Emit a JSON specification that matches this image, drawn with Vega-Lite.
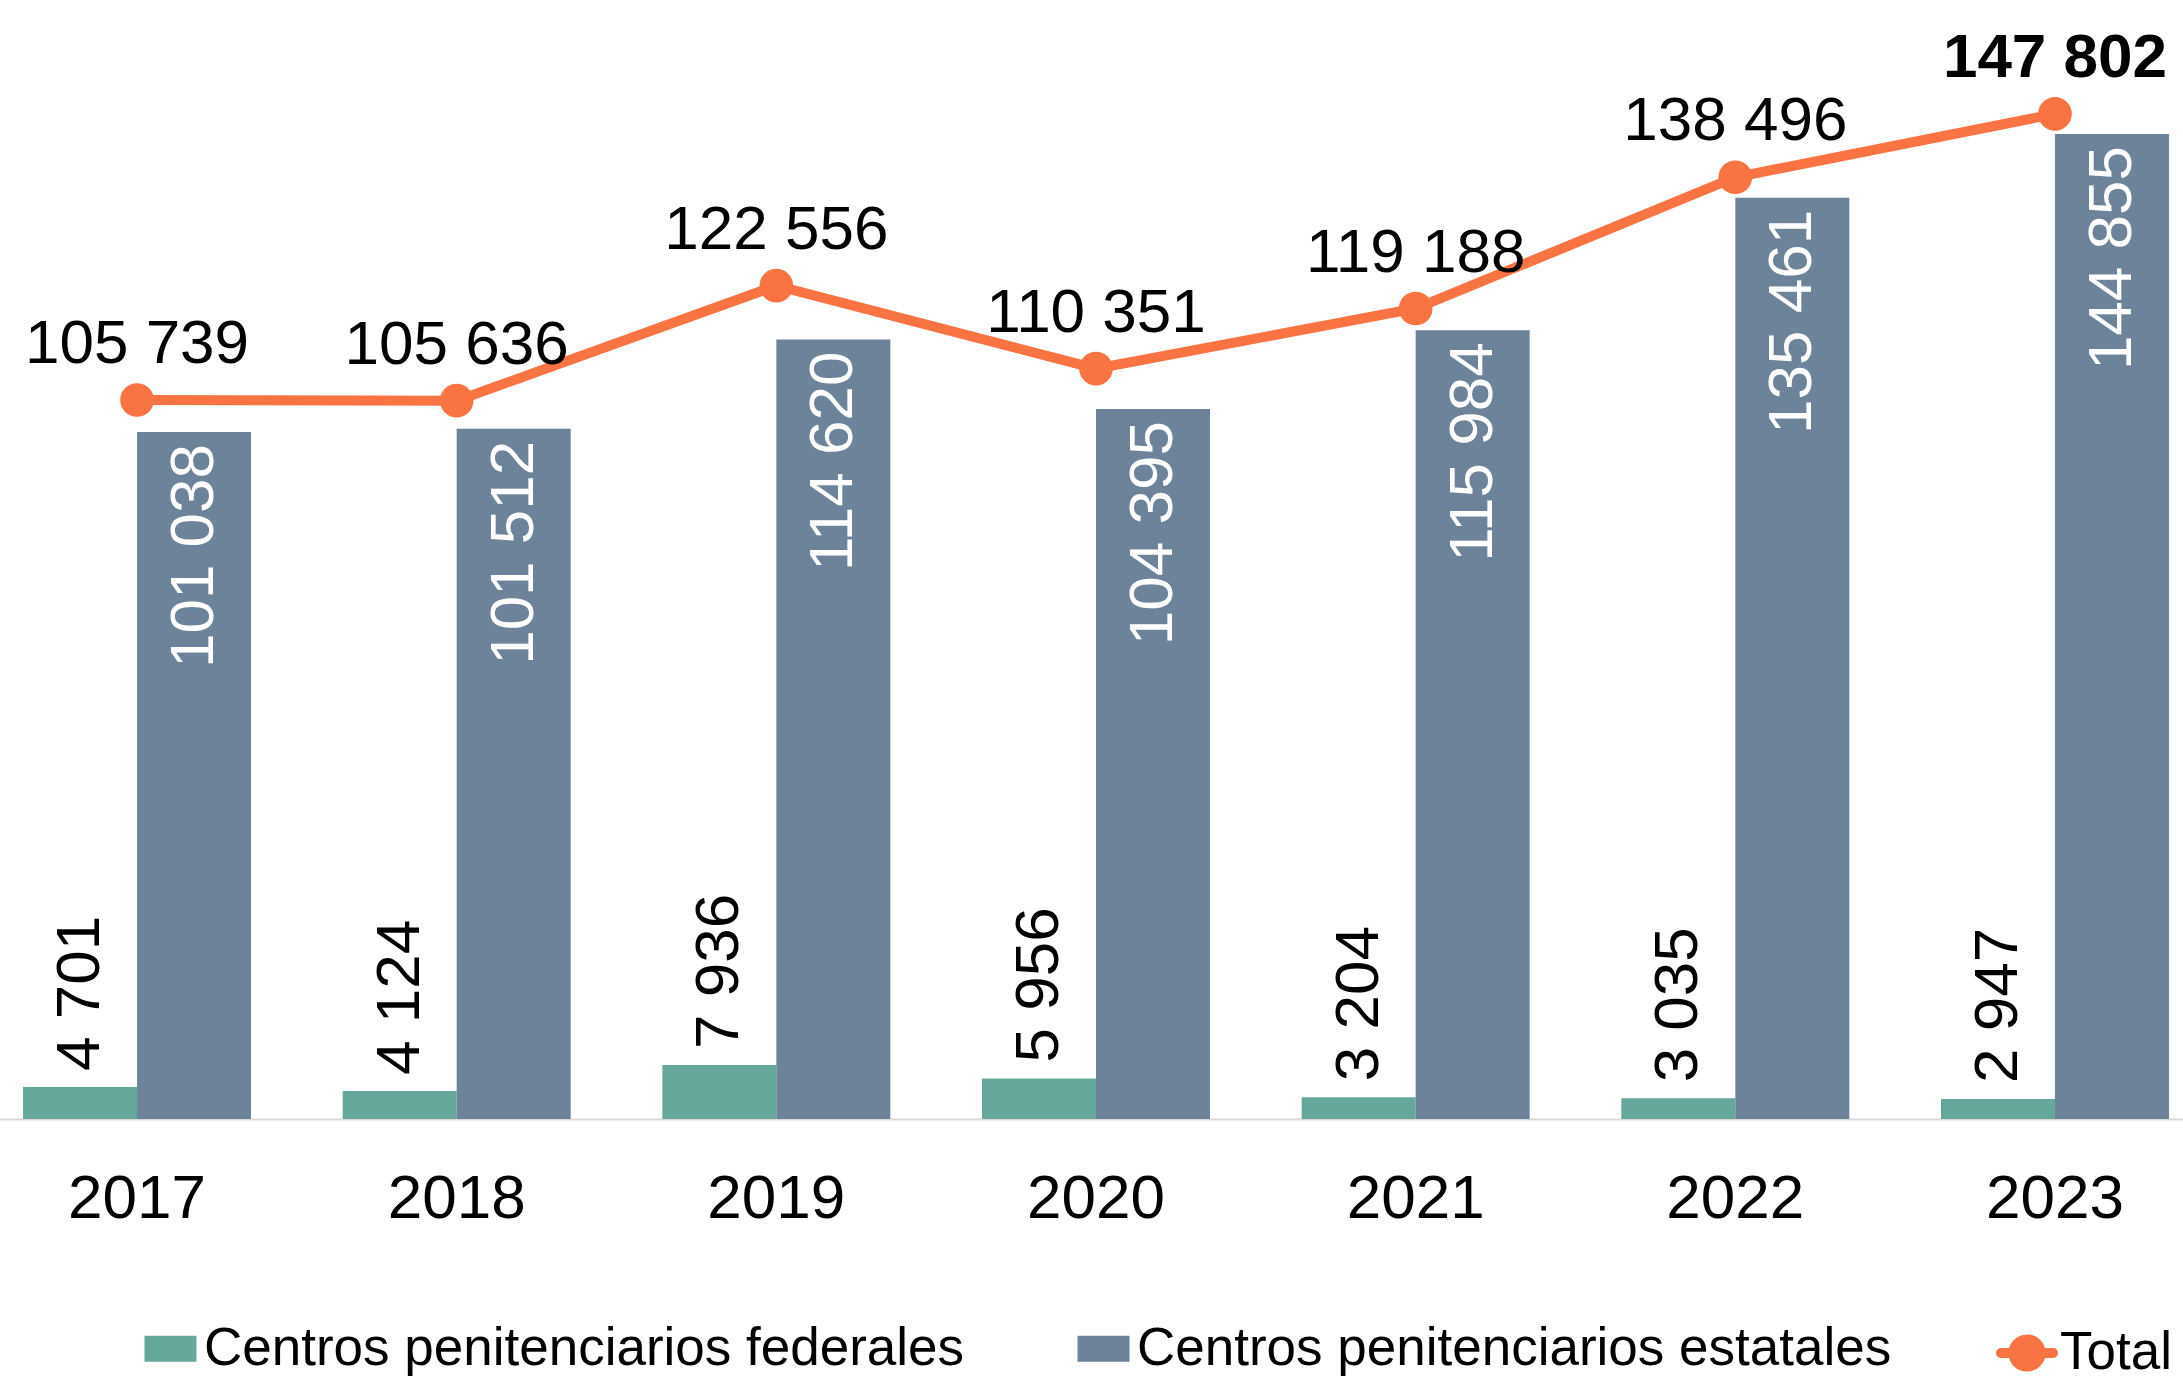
{
  "$schema": "https://vega.github.io/schema/vega-lite/v6.json",
  "width": 2183,
  "height": 1119,
  "autosize": {"type": "none"},
  "padding": {"left": 0, "top": 0, "right": 0, "bottom": 262},
  "background": "white",
  "config": {
    "view": {"stroke": null},
    "font": "Liberation Sans",
    "locale": {"number": {"decimal": ".", "thousands": " ", "grouping": [3], "currency": ["$", ""]}},
    "axis": {"grid": false}
  },
  "datasets": {
    "barras": [
      {"anio": "2017", "serie": "Centros penitenciarios federales", "valor": 4701},
      {"anio": "2018", "serie": "Centros penitenciarios federales", "valor": 4124},
      {"anio": "2019", "serie": "Centros penitenciarios federales", "valor": 7936},
      {"anio": "2020", "serie": "Centros penitenciarios federales", "valor": 5956},
      {"anio": "2021", "serie": "Centros penitenciarios federales", "valor": 3204},
      {"anio": "2022", "serie": "Centros penitenciarios federales", "valor": 3035},
      {"anio": "2023", "serie": "Centros penitenciarios federales", "valor": 2947},
      {"anio": "2017", "serie": "Centros penitenciarios estatales", "valor": 101038},
      {"anio": "2018", "serie": "Centros penitenciarios estatales", "valor": 101512},
      {"anio": "2019", "serie": "Centros penitenciarios estatales", "valor": 114620},
      {"anio": "2020", "serie": "Centros penitenciarios estatales", "valor": 104395},
      {"anio": "2021", "serie": "Centros penitenciarios estatales", "valor": 115984},
      {"anio": "2022", "serie": "Centros penitenciarios estatales", "valor": 135461},
      {"anio": "2023", "serie": "Centros penitenciarios estatales", "valor": 144855}
    ],
    "totales": [
      {"anio": "2017", "tipo": "Total", "total": 105739},
      {"anio": "2018", "tipo": "Total", "total": 105636},
      {"anio": "2019", "tipo": "Total", "total": 122556},
      {"anio": "2020", "tipo": "Total", "total": 110351},
      {"anio": "2021", "tipo": "Total", "total": 119188},
      {"anio": "2022", "tipo": "Total", "total": 138496},
      {"anio": "2023", "tipo": "Total", "total": 147802}
    ]
  },
  "encoding": {
    "x": {
      "field": "anio",
      "type": "ordinal",
      "scale": {"range": [-22.8, 2214.8], "paddingInner": 0.2868, "paddingOuter": 0.1434},
      "axis": {
        "title": null,
        "labelAngle": 0,
        "labelFontSize": 62,
        "labelFont": "Liberation Sans",
        "labelColor": "black",
        "labelBaseline": "top",
        "ticks": false,
        "tickSize": 0,
        "labelPadding": 49,
        "domainColor": "#D9D9D9",
        "domainWidth": 2
      }
    }
  },
  "layer": [
    {
      "data": {"name": "barras"},
      "mark": {"type": "bar"},
      "encoding": {
        "xOffset": {"field": "serie", "type": "nominal", "scale": {"domain": ["Centros penitenciarios federales", "Centros penitenciarios estatales"], "paddingInner": 0, "paddingOuter": 0}},
        "y": {"field": "valor", "type": "quantitative", "scale": {"domain": [0, 164560], "nice": false}, "axis": null},
        "color": {
          "field": "serie",
          "type": "nominal",
          "scale": {"domain": ["Centros penitenciarios federales", "Centros penitenciarios estatales"], "range": ["#66A79B", "#6C8399"]},
          "legend": {
            "orient": "none",
            "legendX": 144,
            "legendY": 1322,
            "direction": "horizontal",
            "title": null,
            "symbolType": "M-1,-0.5H1V0.5H-1Z",
            "symbolSize": 2704,
            "symbolStrokeWidth": 0,
            "symbolOpacity": 1,
            "labelFontSize": 53,
            "labelFont": "Liberation Sans",
            "labelColor": "black",
            "labelOffset": 7,
            "labelLimit": 2000,
            "columnPadding": 112
          }
        }
      }
    },
    {
      "data": {"name": "barras"},
      "transform": [{"filter": "datum.serie == 'Centros penitenciarios federales'"}],
      "mark": {"type": "text", "angle": 270, "align": "left", "baseline": "middle", "dx": 16, "fontSize": 62, "font": "Liberation Sans", "color": "black"},
      "encoding": {
        "xOffset": {"field": "serie", "type": "nominal", "scale": {"domain": ["Centros penitenciarios federales", "Centros penitenciarios estatales"], "paddingInner": 0, "paddingOuter": 0}},
        "y": {"field": "valor", "type": "quantitative"},
        "text": {"field": "valor", "type": "quantitative", "format": ",d"}
      }
    },
    {
      "data": {"name": "barras"},
      "transform": [{"filter": "datum.serie == 'Centros penitenciarios estatales'"}],
      "mark": {"type": "text", "angle": 270, "align": "right", "baseline": "middle", "dx": -12, "fontSize": 62, "font": "Liberation Sans", "color": "white"},
      "encoding": {
        "xOffset": {"field": "serie", "type": "nominal", "scale": {"domain": ["Centros penitenciarios federales", "Centros penitenciarios estatales"], "paddingInner": 0, "paddingOuter": 0}},
        "y": {"field": "valor", "type": "quantitative"},
        "text": {"field": "valor", "type": "quantitative", "format": ",d"}
      }
    },
    {
      "data": {"name": "totales"},
      "mark": {"type": "line", "color": "#FA7343", "strokeWidth": 10},
      "encoding": {
        "y": {"field": "total", "type": "quantitative"}
      }
    },
    {
      "data": {"name": "totales"},
      "mark": {"type": "point", "filled": true, "size": 1134, "opacity": 1, "strokeWidth": 0},
      "encoding": {
        "y": {"field": "total", "type": "quantitative"},
        "fill": {
          "field": "tipo",
          "type": "nominal",
          "scale": {"domain": ["Total"], "range": ["#FA7343"]},
          "legend": {
            "orient": "none",
            "legendX": 1996,
            "legendY": 1322,
            "direction": "horizontal",
            "title": null,
            "symbolType": "M-0.84,-0.16H0.84A0.16,0.16 0 0,1 0.84,0.16H-0.84A0.16,0.16 0 0,1 -0.84,-0.16Z M-0.6,0A0.6,0.6 0 1,1 0.6,0A0.6,0.6 0 1,1 -0.6,0Z",
            "symbolSize": 3844,
            "symbolStrokeWidth": 0,
            "symbolOpacity": 1,
            "labelFontSize": 53,
            "labelFont": "Liberation Sans",
            "labelColor": "black",
            "labelOffset": 2,
            "labelLimit": 2000
          }
        }
      }
    },
    {
      "data": {"name": "totales"},
      "transform": [{"filter": "datum.anio != '2023'"}],
      "mark": {"type": "text", "baseline": "alphabetic", "dy": -37, "fontSize": 62, "font": "Liberation Sans", "color": "black"},
      "encoding": {
        "y": {"field": "total", "type": "quantitative"},
        "text": {"field": "total", "type": "quantitative", "format": ",d"}
      }
    },
    {
      "data": {"name": "totales"},
      "transform": [{"filter": "datum.anio == '2023'"}],
      "mark": {"type": "text", "baseline": "alphabetic", "dy": -37, "fontSize": 62, "fontWeight": "bold", "font": "Liberation Sans", "color": "black"},
      "encoding": {
        "y": {"field": "total", "type": "quantitative"},
        "text": {"field": "total", "type": "quantitative", "format": ",d"}
      }
    }
  ]
}
